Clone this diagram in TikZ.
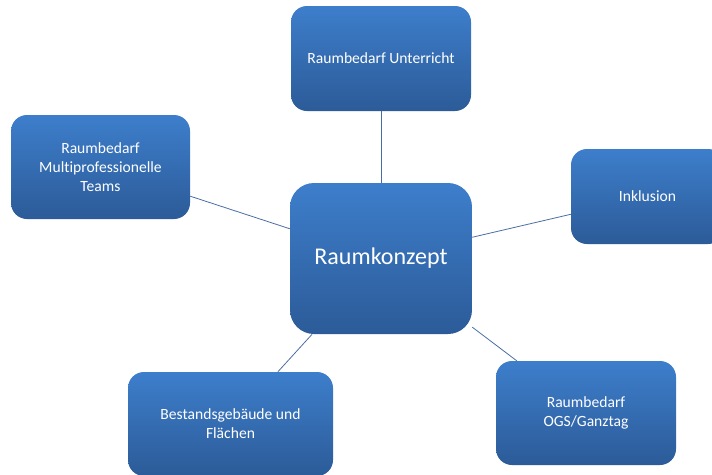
\documentclass[tikz,border=0pt]{standalone}
\usepackage{fontspec}
\setmainfont{Carlito}[Ligatures=NoCommon]
\definecolor{boxtop}{HTML}{3D7ECB}
\definecolor{boxbottom}{HTML}{2C5B98}
\definecolor{linkblue}{HTML}{4A6EA3}
\tikzset{
  box/.style={rounded corners=16pt, top color=boxtop, bottom color=boxbottom, draw=none,
    text=white, align=center, font=\fontsize{15.6}{19}\selectfont, inner sep=0pt},
  hub/.style={box, rounded corners=24pt, font=\fontsize{24}{28}\selectfont},
  link/.style={draw=linkblue, line width=0.8pt}
}
\begin{document}
\begin{tikzpicture}[x=1pt, y=-1pt]
    \useasboundingbox (0,0) rectangle (712,474);
    \clip (0,0) rectangle (712,474);

    \node[hub, minimum width=182pt, minimum height=151pt] (konzept) at (381,258.5) {Raumkonzept};

    \node[box, minimum width=180pt, minimum height=105pt] (unterricht) at (381,58.5) {Raumbedarf Unterricht};
    \node[box, minimum width=179pt, minimum height=104pt] (teams) at (100.5,167) {Raumbedarf\\Multiprofessionelle\\Teams};
    \node[box, minimum width=153pt, minimum height=95pt] (inklusion) at (647.5,196.5) {Inklusion};
    \node[box, minimum width=205pt, minimum height=104pt] (bestand) at (230.5,424) {Bestandsgebäude und\\Flächen};
    \node[box, minimum width=180pt, minimum height=104pt] (ogs) at (586,413) {Raumbedarf\\OGS/Ganztag};

    \draw[link] (konzept) -- (unterricht);
    \draw[link] (konzept) -- (teams);
    \draw[link] (konzept) -- (inklusion);
    \draw[link] (konzept) -- (bestand);
    \draw[link] (konzept) -- (ogs);
  \end{tikzpicture}
\end{document}
